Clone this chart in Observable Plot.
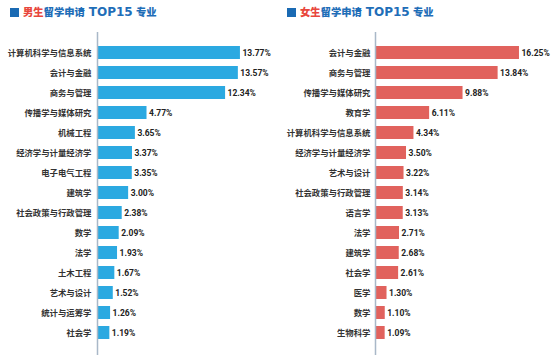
<!DOCTYPE html>
<html>
<head>
<meta charset="utf-8">
<script src="https://cdn.jsdelivr.net/npm/d3@7"></script>
<script src="https://cdn.jsdelivr.net/npm/@observablehq/plot@0.6"></script>
<style>
  html, body { margin: 0; padding: 0; overflow: hidden; background: #fff; font-family: "Noto Sans CJK SC", "Noto Sans", sans-serif; }
  #wrap { display: flex; width: 554px; height: 360px; overflow: hidden; }
  .panel { width: 277px; flex: 0 0 277px; position: relative; }
  .panel svg { display: block; max-width: none !important; }
  .title { height: 24px; box-sizing: border-box; padding-left: 10px; padding-top: 2px; font-size: 10.3px; font-weight: 900; color: #1f6eb8; line-height: 20px; white-space: nowrap; }
  .title .sq { display: inline-block; width: 9px; height: 9px; background: #1a6ab3; margin-right: 4px; vertical-align: -0.5px; }
  .title .hl { color: #e8473d; }
  .title .lat { font-family: "DejaVu Sans", sans-serif; font-weight: bold; font-size: 12px; margin: 0 1px 0 4px; }
</style>
</head>
<body>
<div id="wrap">
  <div class="panel" id="left">
    <div class="title"><span class="sq"></span><span class="hl">男生</span>留学申请<span class="lat">TOP15</span> 专业</div>
  </div>
  <div class="panel" id="right">
    <div class="title"><span class="sq"></span><span class="hl">女生</span>留学申请<span class="lat">TOP15</span> 专业</div>
  </div>
</div>
<script>
const maleMajors = ["计算机科学与信息系统","会计与金融","商务与管理","传播学与媒体研究","机械工程","经济学与计量经济学","电子电气工程","建筑学","社会政策与行政管理","数学","法学","土木工程","艺术与设计","统计与运筹学","社会学"];
const maleValues = [13.77,13.57,12.34,4.77,3.65,3.37,3.35,3.00,2.38,2.09,1.93,1.67,1.52,1.26,1.19];
const femaleMajors = ["会计与金融","商务与管理","传播学与媒体研究","教育学","计算机科学与信息系统","经济学与计量经济学","艺术与设计","社会政策与行政管理","语言学","法学","建筑学","社会学","医学","数学","生物科学"];
const femaleValues = [16.25,13.84,9.88,6.11,4.34,3.50,3.22,3.14,3.13,2.71,2.68,2.61,1.30,1.10,1.09];

function panel(majors, values, color, axisX, pxPerPct, tickPad) {
  const data = majors.map((m, i) => ({major: m, value: values[i]}));
  const maxDom = 18;
  return Plot.plot({
    width: 277,
    height: 336,
    marginTop: 8,
    marginBottom: 5,
    marginLeft: axisX,
    marginRight: 0,
    style: {fontFamily: "'Noto Sans CJK SC', 'Noto Sans', sans-serif", background: "transparent"},
    x: {domain: [0, maxDom], range: [axisX, axisX + maxDom * pxPerPct], axis: null},
    y: {domain: majors, range: [8.85, 328.2], padding: 0.36, label: null},
    marks: [
      Plot.barX(data, {x: "value", y: "major", fill: color}),
      Plot.ruleX([0], {stroke: "#a9b8c8", strokeWidth: 1.5}),
      Plot.text(data, {x: "value", y: "major", text: d => d.value.toFixed(2) + "%", dx: 2, textAnchor: "start", fontSize: 8.5, fontWeight: "bold", fill: "#222", fontFamily: "Roboto, 'Noto Sans', sans-serif"}),
      Plot.axisY({tickSize: 0, tickPadding: tickPad, fontSize: 8.4, fontWeight: "bold", color: "#333", label: null})
    ]
  });
}

document.getElementById("left").appendChild(panel(maleMajors, maleValues, "#2ba9e1", 97, 10.38, 6));
document.getElementById("right").appendChild(panel(femaleMajors, femaleValues, "#e1625d", 98, 8.86, 5));
</script>
</body>
</html>
